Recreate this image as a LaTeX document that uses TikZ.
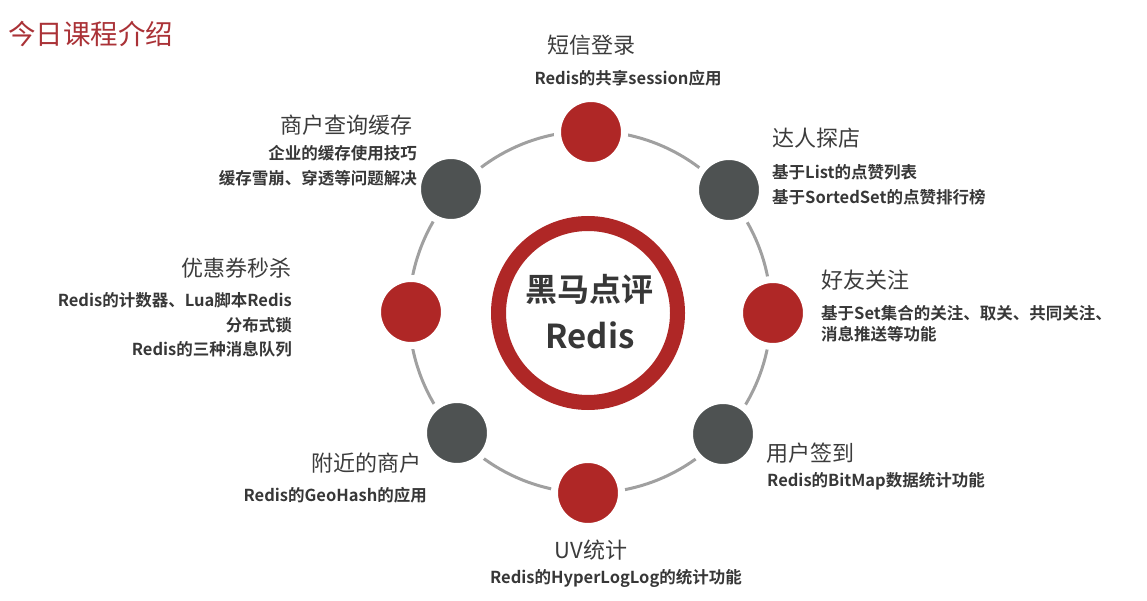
\documentclass[tikz,border=0pt]{standalone}
\usepackage{fontspec}
\setmainfont{Noto Sans CJK SC}[BoldFont={Noto Sans CJK SC Bold}]
\definecolor{myred}{RGB}{175,39,38}
\definecolor{mydark}{RGB}{78,82,82}
\definecolor{ringgray}{RGB}{160,160,160}
\definecolor{titlec}{RGB}{170,50,55}
\definecolor{headc}{RGB}{60,60,60}
\definecolor{subc}{RGB}{55,55,55}
\tikzset{
  head/.style={font=\fontsize{22}{26}\selectfont, text=headc, inner sep=0pt},
  sub/.style={font=\bfseries\fontsize{16.5}{24.5}\selectfont, text=subc, inner sep=0pt},
  dot/.style={circle, minimum size=67pt, inner sep=0pt, draw=white, line width=7pt},
  reddot/.style={dot, fill=myred},
  darkdot/.style={dot, fill=mydark},
}
\begin{document}
\begin{tikzpicture}[x=1pt,y=-1pt]
\useasboundingbox (0,0) rectangle (1147,601);
\node[anchor=west, inner sep=0pt, text=titlec, font=\fontsize{27.5}{30}\selectfont] (title) at (8,34) {今日课程介绍};
% ring
\draw[ringgray, line width=3pt] (590,312) circle (181);
% center
\draw[myred, line width=15pt, fill=white] (588,313) circle (89.5);
\node[inner sep=0pt, text=subc, font=\bfseries\fontsize{32}{36}\selectfont] (c1) at (589,289) {黑马点评};
\node[inner sep=0pt, text=subc, font=\bfseries\fontsize{33}{36}\selectfont] (c2) at (590,335) {Redis};
% dots
\node[reddot] (n1) at (591,132) {};
\node[darkdot] (n2) at (729,190) {};
\node[reddot] (n3) at (773,313) {};
\node[darkdot] (n4) at (723,434) {};
\node[reddot] (n5) at (588,493) {};
\node[darkdot] (n6) at (457,433) {};
\node[reddot] (n7) at (411,312) {};
\node[darkdot] (n8) at (451,189) {};
% labels
\node[head] (h1) at (591,45) {短信登录};
\node[sub] (s1) at (628,78) {Redis的共享session应用};
\node[head, anchor=west] (h2) at (772,138) {达人探店};
\node[sub, anchor=west, align=left] (s2) at (772,185) {基于List的点赞列表\\基于SortedSet的点赞排行榜};
\node[head, anchor=west] (h3) at (821,280) {好友关注};
\node[sub, anchor=west, align=left, font=\bfseries\fontsize{16.5}{21}\selectfont] (s3) at (821,323.5) {基于Set集合的关注、取关、共同关注、\\消息推送等功能};
\node[head, anchor=west] (h4) at (766,453) {用户签到};
\node[sub, anchor=west] (s4) at (767,481) {Redis的BitMap数据统计功能};
\node[head] (h5) at (591,550) {UV统计};
\node[sub] (s5) at (616,578) {Redis的HyperLogLog的统计功能};
\node[head, anchor=east] (h6) at (422,463) {附近的商户};
\node[sub, anchor=east] (s6) at (427,495) {Redis的GeoHash的应用};
\node[head, anchor=east] (h7) at (292,268) {优惠券秒杀};
\node[sub, anchor=east, align=right] (s7) at (292,325) {Redis的计数器、Lua脚本Redis\\分布式锁\\Redis的三种消息队列};
\node[head, anchor=east] (h8) at (413,125) {商户查询缓存};
\node[sub, anchor=east, align=right, font=\bfseries\fontsize{16.5}{25}\selectfont] (s8) at (417,165.5) {企业的缓存使用技巧\\缓存雪崩、穿透等问题解决};
\end{tikzpicture}
\end{document}
